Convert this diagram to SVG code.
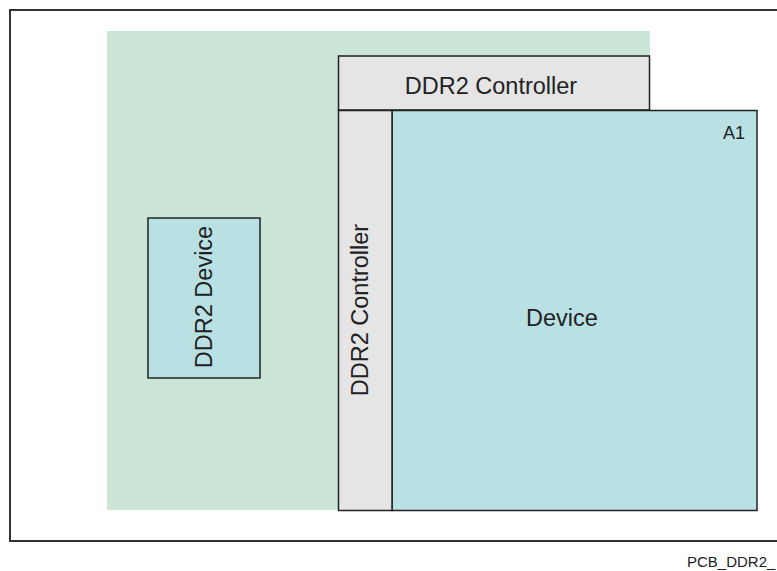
<svg xmlns="http://www.w3.org/2000/svg" width="777" height="571" viewBox="0 0 777 571">
<style>
text{font-family:"Liberation Sans",Arial,sans-serif;fill:#222}
.box{stroke:#222;stroke-width:1.5}
.ctl{fill:#e5e5e5}
.dev{fill:#b9e1e3}
</style>
<rect x="0" y="0" width="777" height="571" fill="#fff"/>
<rect id="frame" x="10" y="10" width="800" height="531" fill="none" stroke="#333" stroke-width="2"/>
<g id="pcb"><rect x="107" y="31" width="543" height="479" fill="#cbe6d6"/></g>
<g id="ddr2-device">
<rect class="box dev" x="148" y="218" width="112" height="160"/>
<text transform="translate(212,297) rotate(-90)" font-size="23.5" text-anchor="middle">DDR2 Device</text>
</g>
<g id="ctl-top">
<rect class="box ctl" x="338.5" y="56" width="311" height="54"/>
<text x="491" y="94" font-size="23.5" text-anchor="middle">DDR2 Controller</text>
</g>
<g id="device">
<rect class="box dev" x="392" y="110.5" width="365" height="400"/>
<text x="562" y="326" font-size="23.5" text-anchor="middle">Device</text>
<text x="745" y="139" font-size="18" text-anchor="end">A1</text>
</g>
<g id="ctl-left">
<rect class="box ctl" x="338.5" y="110.5" width="53.5" height="400"/>
<text transform="translate(368,310) rotate(-90)" font-size="23.5" text-anchor="middle">DDR2 Controller</text>
</g>
<g id="connectors"></g>
<text x="687" y="567" font-size="15">PCB_DDR2_</text>
</svg>
